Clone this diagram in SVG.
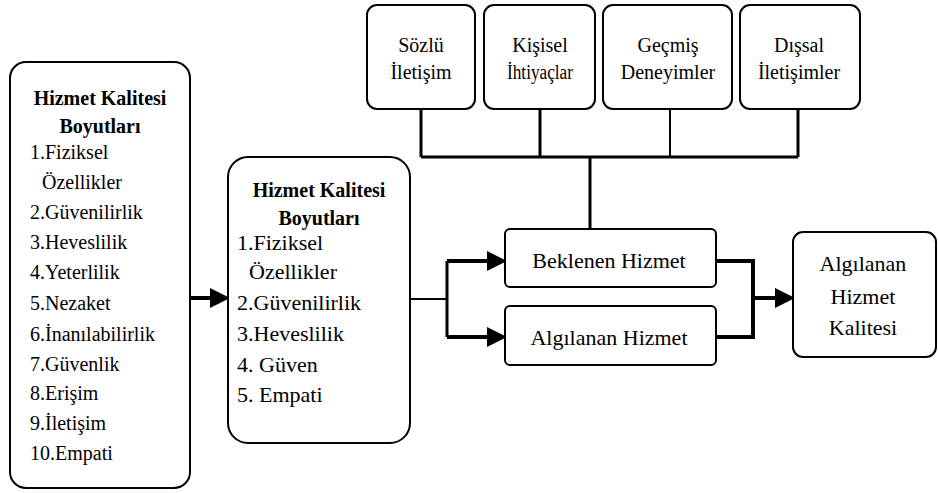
<svg xmlns="http://www.w3.org/2000/svg" width="938" height="493" viewBox="0 0 938 493">
<style>
.box{fill:#fff;stroke:#000;stroke-width:2}
.t{font-family:'Liberation Serif','Times New Roman',serif;font-size:20px;fill:#000}
.m{font-size:22px}
.b{font-weight:bold}
.c{text-anchor:middle}
.ln{fill:none;stroke:#000;stroke-width:3}
.thk{fill:none;stroke:#000;stroke-width:4}
.thin{fill:none;stroke:#000;stroke-width:2}
</style>
<defs>
<marker id="ah" markerWidth="5" markerHeight="5" refX="4" refY="2.5" orient="auto" markerUnits="strokeWidth">
<path d="M0,0 L5,2.5 L0,5 Z" fill="#000"/>
</marker>
</defs>
<g id="connectors">
<path class="thk" d="M190,298 H226" marker-end="url(#ah)"/>
<path class="ln" d="M421,109 V157 M540,109 V157 M798,109 V157 M421,157 H798"/>
<path class="thin" d="M670,109 V157"/>
<path class="ln" d="M590,157 V229"/>
<path class="thin" d="M410,299 H447"/>
<path class="ln" d="M447,261 V337"/>
<path class="thk" d="M447,261 H503" marker-end="url(#ah)"/>
<path class="thk" d="M447,337 H503" marker-end="url(#ah)"/>
<path class="thk" d="M716,261 H753 V337 H716"/>
<path class="thk" d="M753,298 H791" marker-end="url(#ah)"/>
</g>
<g id="dimensions10">
<rect class="box" x="10" y="62" width="180" height="426" rx="16"/>
<text class="t b c" x="100" y="105">Hizmet Kalitesi</text>
<text class="t b c" x="100" y="133">Boyutları</text>
<text class="t" x="30" y="159">1.Fiziksel</text>
<text class="t" x="42" y="189">Özellikler</text>
<text class="t" x="30" y="219">2.Güvenilirlik</text>
<text class="t" x="30" y="249">3.Heveslilik</text>
<text class="t" x="30" y="279">4.Yeterlilik</text>
<text class="t" x="30" y="310">5.Nezaket</text>
<text class="t" x="30" y="341">6.İnanılabilirlik</text>
<text class="t" x="30" y="371">7.Güvenlik</text>
<text class="t" x="30" y="400">8.Erişim</text>
<text class="t" x="30" y="430">9.İletişim</text>
<text class="t" x="30" y="460">10.Empati</text>
</g>
<g id="dimensions5">
<rect class="box" x="228" y="157" width="182" height="286" rx="20"/>
<text class="t b c" x="319" y="197">Hizmet Kalitesi</text>
<text class="t b c" x="319" y="225">Boyutları</text>
<text class="t m" x="237" y="250">1.Fiziksel</text>
<text class="t m" x="249" y="279">Özellikler</text>
<text class="t m" x="237" y="310">2.Güvenilirlik</text>
<text class="t m" x="237" y="341">3.Heveslilik</text>
<text class="t m" x="237" y="372">4. Güven</text>
<text class="t m" x="237" y="402">5. Empati</text>
</g>
<g id="sozlu">
<rect class="box" x="367" y="5" width="108" height="104" rx="10"/>
<text class="t c" x="421" y="52">Sözlü</text>
<text class="t c" x="421" y="79">İletişim</text>
</g>
<g id="kisisel">
<rect class="box" x="484" y="5" width="111" height="104" rx="10"/>
<text class="t c" x="540" y="52">Kişisel</text>
<text class="t c" x="540" y="79" textLength="66" lengthAdjust="spacingAndGlyphs">İhtiyaçlar</text>
</g>
<g id="gecmis">
<rect class="box" x="603" y="5" width="129" height="104" rx="10"/>
<text class="t c" x="668" y="52">Geçmiş</text>
<text class="t c" x="668" y="79">Deneyimler</text>
</g>
<g id="dissal">
<rect class="box" x="740" y="5" width="120" height="104" rx="10"/>
<text class="t c" x="799" y="52">Dışsal</text>
<text class="t c" x="799" y="79">İletişimler</text>
</g>
<g id="beklenen">
<rect class="box" x="505" y="229" width="211" height="58" rx="5"/>
<text class="t m c" x="609" y="268">Beklenen Hizmet</text>
</g>
<g id="algilanan">
<rect class="box" x="505" y="306" width="211" height="59" rx="5"/>
<text class="t m c" x="609" y="345">Algılanan Hizmet</text>
</g>
<g id="kalite">
<rect class="box" x="793" y="232" width="143" height="125" rx="10"/>
<text class="t m c" x="863" y="271">Algılanan</text>
<text class="t m c" x="863" y="304">Hizmet</text>
<text class="t m c" x="863" y="335">Kalitesi</text>
</g>
</svg>
